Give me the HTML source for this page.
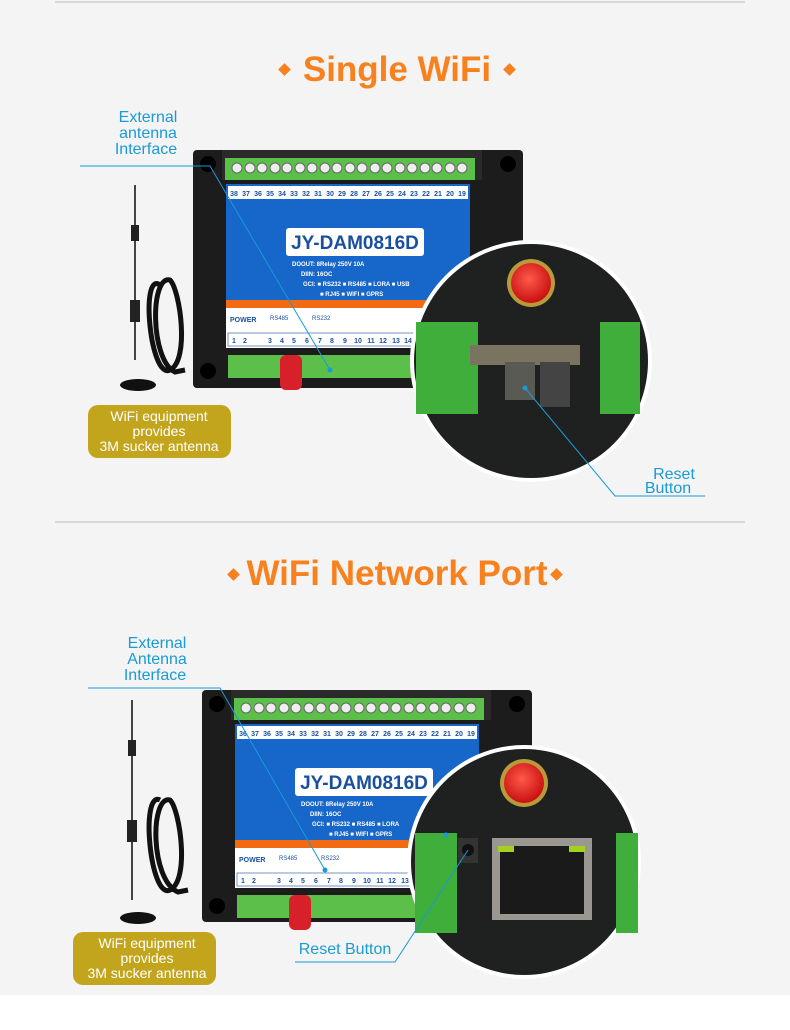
<!DOCTYPE html>
<html><head><meta charset="utf-8"><style>
html,body{margin:0;padding:0;background:#f4f4f4;}
svg{display:block;font-family:"Liberation Sans",sans-serif;}
.lb{fill:#1a9ad6;font-size:16px;text-anchor:middle;}
.tt{fill:#f7811e;font-size:35px;font-weight:bold;text-anchor:middle;}
.num{font-size:7px;fill:#1a4fa0;font-weight:bold;text-anchor:middle;}
.wt{fill:#fff;font-size:6px;font-weight:bold;}
.gold{fill:#fff;font-size:14px;text-anchor:middle;}
</style></head><body>
<svg width="790" height="1030" viewBox="0 0 790 1030">
<defs>
<radialGradient id="red" cx="45%" cy="40%" r="60%"><stop offset="0" stop-color="#ff5a4a"/><stop offset="1" stop-color="#c81010"/></radialGradient>
</defs>
<rect width="790" height="1030" fill="#f4f4f4"/>
<rect x="0" y="995" width="790" height="35" fill="#fff"/>
<line x1="55" y1="2" x2="745" y2="2" stroke="#bbb"/>
<line x1="55" y1="522" x2="745" y2="522" stroke="#bbb"/>

<text class="tt" x="397" y="81">Single WiFi</text>
<rect x="280" y="65" width="9" height="9" fill="#f7811e" transform="rotate(45 284.5 69.5)"/>
<rect x="505" y="65" width="9" height="9" fill="#f7811e" transform="rotate(45 509.5 69.5)"/>
<text class="tt" x="397" y="585">WiFi Network Port</text>
<rect x="229" y="570" width="9" height="9" fill="#f7811e" transform="rotate(45 233.5 574.5)"/>
<rect x="552" y="570" width="9" height="9" fill="#f7811e" transform="rotate(45 556.5 574.5)"/>

<!-- DEVICE 1 -->
<g>
<rect x="193" y="150" width="330" height="238" rx="4" fill="#1c1c1c"/>
<rect x="222" y="150" width="260" height="30" fill="#2a2a2a"/>
<rect x="225" y="158" width="250" height="22" fill="#5cbf4a"/>
<g fill="#eee" stroke="#666" stroke-width="1">
<circle cx="237" cy="168" r="5"/><circle cx="250" cy="168" r="5"/><circle cx="262" cy="168" r="5"/><circle cx="275" cy="168" r="5"/><circle cx="287" cy="168" r="5"/><circle cx="300" cy="168" r="5"/><circle cx="312" cy="168" r="5"/><circle cx="325" cy="168" r="5"/><circle cx="337" cy="168" r="5"/><circle cx="350" cy="168" r="5"/><circle cx="362" cy="168" r="5"/><circle cx="375" cy="168" r="5"/><circle cx="387" cy="168" r="5"/><circle cx="400" cy="168" r="5"/><circle cx="412" cy="168" r="5"/><circle cx="425" cy="168" r="5"/><circle cx="437" cy="168" r="5"/><circle cx="450" cy="168" r="5"/><circle cx="462" cy="168" r="5"/>
</g>
<rect x="226" y="184" width="244" height="125" fill="#1766c9"/>
<rect x="226" y="300" width="244" height="8" fill="#f26b12"/>
<rect x="226" y="308" width="244" height="40" fill="#fff"/>
<rect x="228" y="186" width="240" height="13" fill="#fff"/>
<text class="num" y="196"><tspan x="234">38</tspan><tspan x="246">37</tspan><tspan x="258">36</tspan><tspan x="270">35</tspan><tspan x="282">34</tspan><tspan x="294">33</tspan><tspan x="306">32</tspan><tspan x="318">31</tspan><tspan x="330">30</tspan><tspan x="342">29</tspan><tspan x="354">28</tspan><tspan x="366">27</tspan><tspan x="378">26</tspan><tspan x="390">25</tspan><tspan x="402">24</tspan><tspan x="414">23</tspan><tspan x="426">22</tspan><tspan x="438">21</tspan><tspan x="450">20</tspan><tspan x="462">19</tspan></text>
<rect x="286" y="228" width="138" height="28" rx="3" fill="#fff"/>
<text x="355" y="249" fill="#1a4fa0" font-size="19" font-weight="bold" text-anchor="middle">JY-DAM0816D</text>
<text class="wt" x="292" y="266">DOOUT: 8Relay 250V 10A</text>
<text class="wt" x="301" y="276">DIIN: 16OC</text>
<text class="wt" x="303" y="286">GCI: ■ RS232 ■ RS485 ■ LORA ■ USB</text>
<text class="wt" x="320" y="296">■ RJ45 ■ WIFI ■ GPRS</text>
<text x="230" y="322" font-size="7" fill="#1a4fa0" font-weight="bold">POWER</text>
<text x="270" y="320" font-size="6" fill="#1a4fa0">RS485</text><text x="312" y="320" font-size="6" fill="#1a4fa0">RS232</text>
<rect x="228" y="333" width="240" height="13" fill="#fff" stroke="#1a4fa0" stroke-width="0.6"/>
<text class="num" y="343"><tspan x="234">1</tspan><tspan x="245">2</tspan><tspan x="270">3</tspan><tspan x="282">4</tspan><tspan x="294">5</tspan><tspan x="307">6</tspan><tspan x="320">7</tspan><tspan x="332">8</tspan><tspan x="345">9</tspan><tspan x="358">10</tspan><tspan x="371">11</tspan><tspan x="383">12</tspan><tspan x="396">13</tspan><tspan x="408">14</tspan></text>
<rect x="228" y="355" width="250" height="23" fill="#5cbf4a"/>
<rect x="280" y="355" width="22" height="35" rx="6" fill="#d8202a"/>
<circle cx="208" cy="164" r="8" fill="#000"/><circle cx="208" cy="371" r="8" fill="#000"/><circle cx="508" cy="164" r="8" fill="#000"/>
</g>
<circle cx="531" cy="361" r="121" fill="#fff"/>
<circle cx="531" cy="361" r="117" fill="#1e211f"/>
<circle cx="531" cy="283" r="24" fill="#b89a3a"/><circle cx="531" cy="283" r="20" fill="url(#red)"/>
<rect x="416" y="322" width="62" height="92" fill="#3fae3a"/>
<rect x="600" y="322" width="40" height="92" fill="#3fae3a"/>
<rect x="470" y="345" width="110" height="20" fill="#7a7360"/>
<rect x="505" y="362" width="30" height="38" fill="#5a5a55"/>
<rect x="540" y="362" width="30" height="45" fill="#444"/>
<!-- antenna 1 -->
<line x1="135" y1="185" x2="135" y2="360" stroke="#444" stroke-width="2"/>
<rect x="131" y="225" width="8" height="16" fill="#222"/><rect x="130" y="300" width="10" height="22" fill="#222"/>
<path d="M160 285 C140 270 150 380 170 370 C190 360 180 290 170 280 C150 275 150 360 175 372 L185 370" fill="none" stroke="#111" stroke-width="5"/>
<ellipse cx="138" cy="385" rx="18" ry="6" fill="#111"/>
<rect x="88" y="405" width="143" height="53" rx="10" fill="#c2a51c"/>
<text class="gold" y="421"><tspan x="159">WiFi equipment</tspan><tspan x="159" dy="15">provides</tspan><tspan x="159" dy="15">3M sucker antenna</tspan></text>
<text class="lb" y="122"><tspan x="148">External</tspan><tspan x="148" dy="16">antenna</tspan><tspan x="146" dy="16">Interface</tspan></text>
<polyline points="80,166 210,166 330,370" fill="none" stroke="#1a9ad6" stroke-width="1"/>
<circle cx="330" cy="370" r="2.5" fill="#1a9ad6"/>
<text class="lb" y="479"><tspan x="674">Reset</tspan><tspan x="668" dy="14">Button</tspan></text>
<polyline points="705,496 615,496 525,388" fill="none" stroke="#1a9ad6" stroke-width="1"/>
<circle cx="525" cy="388" r="2.5" fill="#1a9ad6"/>

<!-- DEVICE 2 -->
<g transform="translate(9,540)">
<rect x="193" y="150" width="330" height="232" rx="4" fill="#1c1c1c"/>
<rect x="222" y="150" width="260" height="30" fill="#2a2a2a"/>
<rect x="225" y="158" width="250" height="22" fill="#5cbf4a"/>
<g fill="#eee" stroke="#666" stroke-width="1">
<circle cx="237" cy="168" r="5"/><circle cx="250" cy="168" r="5"/><circle cx="262" cy="168" r="5"/><circle cx="275" cy="168" r="5"/><circle cx="287" cy="168" r="5"/><circle cx="300" cy="168" r="5"/><circle cx="312" cy="168" r="5"/><circle cx="325" cy="168" r="5"/><circle cx="337" cy="168" r="5"/><circle cx="350" cy="168" r="5"/><circle cx="362" cy="168" r="5"/><circle cx="375" cy="168" r="5"/><circle cx="387" cy="168" r="5"/><circle cx="400" cy="168" r="5"/><circle cx="412" cy="168" r="5"/><circle cx="425" cy="168" r="5"/><circle cx="437" cy="168" r="5"/><circle cx="450" cy="168" r="5"/><circle cx="462" cy="168" r="5"/>
</g>
<rect x="226" y="184" width="244" height="125" fill="#1766c9"/>
<rect x="226" y="300" width="244" height="8" fill="#f26b12"/>
<rect x="226" y="308" width="244" height="40" fill="#fff"/>
<rect x="228" y="186" width="240" height="13" fill="#fff"/>
<text class="num" y="196"><tspan x="234">36</tspan><tspan x="246">37</tspan><tspan x="258">36</tspan><tspan x="270">35</tspan><tspan x="282">34</tspan><tspan x="294">33</tspan><tspan x="306">32</tspan><tspan x="318">31</tspan><tspan x="330">30</tspan><tspan x="342">29</tspan><tspan x="354">28</tspan><tspan x="366">27</tspan><tspan x="378">26</tspan><tspan x="390">25</tspan><tspan x="402">24</tspan><tspan x="414">23</tspan><tspan x="426">22</tspan><tspan x="438">21</tspan><tspan x="450">20</tspan><tspan x="462">19</tspan></text>
<rect x="286" y="228" width="138" height="28" rx="3" fill="#fff"/>
<text x="355" y="249" fill="#1a4fa0" font-size="19" font-weight="bold" text-anchor="middle">JY-DAM0816D</text>
<text class="wt" x="292" y="266">DOOUT: 8Relay 250V 10A</text>
<text class="wt" x="301" y="276">DIIN: 16OC</text>
<text class="wt" x="303" y="286">GCI: ■ RS232 ■ RS485 ■ LORA</text>
<text class="wt" x="320" y="296">■ RJ45 ■ WIFI ■ GPRS</text>
<text x="230" y="322" font-size="7" fill="#1a4fa0" font-weight="bold">POWER</text>
<text x="270" y="320" font-size="6" fill="#1a4fa0">RS485</text><text x="312" y="320" font-size="6" fill="#1a4fa0">RS232</text>
<rect x="228" y="333" width="240" height="13" fill="#fff" stroke="#1a4fa0" stroke-width="0.6"/>
<text class="num" y="343"><tspan x="234">1</tspan><tspan x="245">2</tspan><tspan x="270">3</tspan><tspan x="282">4</tspan><tspan x="294">5</tspan><tspan x="307">6</tspan><tspan x="320">7</tspan><tspan x="332">8</tspan><tspan x="345">9</tspan><tspan x="358">10</tspan><tspan x="371">11</tspan><tspan x="383">12</tspan><tspan x="396">13</tspan></text>
<rect x="228" y="355" width="250" height="23" fill="#5cbf4a"/>
<rect x="280" y="355" width="22" height="35" rx="6" fill="#d8202a"/>
<circle cx="208" cy="164" r="8" fill="#000"/><circle cx="208" cy="366" r="8" fill="#000"/><circle cx="508" cy="164" r="8" fill="#000"/>
</g>
<circle cx="524" cy="862" r="117" fill="#fff"/>
<circle cx="524" cy="862" r="113" fill="#1e211f"/>
<circle cx="524" cy="783" r="24" fill="#b89a3a"/><circle cx="524" cy="783" r="20" fill="url(#red)"/>
<rect x="415" y="833" width="42" height="100" fill="#3fae3a"/>
<rect x="616" y="833" width="22" height="100" fill="#3fae3a"/>
<rect x="458" y="838" width="20" height="25" fill="#333"/><circle cx="468" cy="850" r="6" fill="#111"/>
<rect x="492" y="838" width="100" height="82" fill="#9a9790"/>
<rect x="500" y="846" width="84" height="68" fill="#1a1a1a"/>
<rect x="498" y="846" width="16" height="6" fill="#a4d020"/><rect x="569" y="846" width="16" height="6" fill="#a4d020"/>
<!-- antenna 2 -->
<line x1="132" y1="700" x2="132" y2="900" stroke="#444" stroke-width="2"/>
<rect x="128" y="740" width="8" height="16" fill="#222"/><rect x="127" y="820" width="10" height="22" fill="#222"/>
<path d="M160 800 C140 790 150 900 170 890 C190 880 180 810 170 800 C150 795 150 880 178 892 L188 890" fill="none" stroke="#111" stroke-width="5"/>
<ellipse cx="138" cy="918" rx="18" ry="6" fill="#111"/>
<rect x="73" y="932" width="143" height="53" rx="10" fill="#c2a51c"/>
<text class="gold" y="948"><tspan x="147">WiFi equipment</tspan><tspan x="147" dy="15">provides</tspan><tspan x="147" dy="15">3M sucker antenna</tspan></text>
<text class="lb" y="648"><tspan x="157">External</tspan><tspan x="157" dy="16">Antenna</tspan><tspan x="155" dy="16">Interface</tspan></text>
<polyline points="88,688 220,688 325,870" fill="none" stroke="#1a9ad6" stroke-width="1"/>
<circle cx="325" cy="870" r="2.5" fill="#1a9ad6"/>
<text class="lb" x="345" y="954">Reset Button</text>
<polyline points="295,962 395,962 468,850" fill="none" stroke="#1a9ad6" stroke-width="1"/>
<circle cx="446" cy="835" r="2.5" fill="#1a9ad6"/>
</svg>
</body></html>
